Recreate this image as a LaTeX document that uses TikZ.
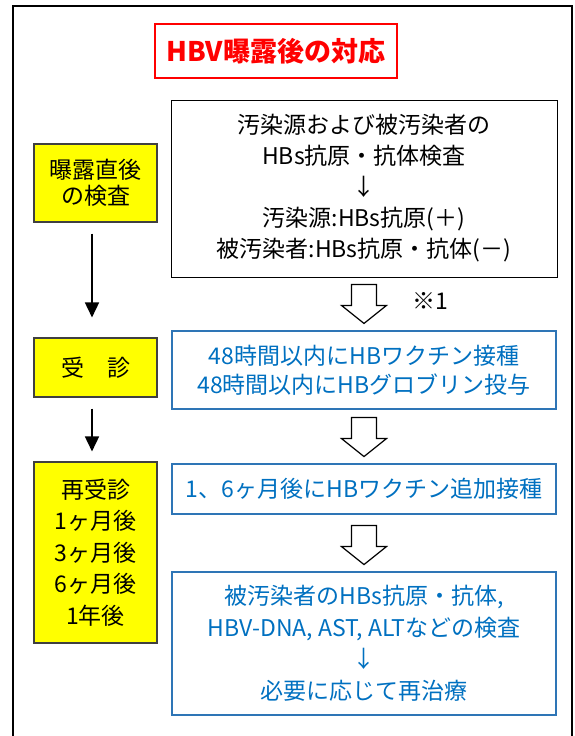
\documentclass[tikz,border=0pt]{standalone}
\usepackage{fontspec}
\setmainfont{Noto Sans CJK JP}
\usetikzlibrary{calc,arrows.meta}
\definecolor{tblue}{RGB}{0,112,192}
\definecolor{bblue}{RGB}{46,117,182}
\definecolor{tred}{RGB}{255,0,0}
\definecolor{ygold}{RGB}{255,255,0}
\begin{document}
\begin{tikzpicture}[x=1pt,y=-1pt,
  box/.style={draw, rectangle, inner sep=0pt, align=center},
  bluebox/.style={box, draw=bblue, line width=1.1pt, text=tblue, minimum width=384pt},
  yelbox/.style={box, draw=black!75, fill=ygold, line width=1.1pt, minimum width=123pt},
  leftarrow/.style={-{Triangle[length=15pt,width=14pt]}, line width=1.6pt},
  harrow/.pic={\draw[fill=white, line width=1.2pt, line join=miter]
      (-12.5,0) -- (12.5,0) -- (12.5,21) -- (22.5,21) -- (0,39) -- (-22.5,21) -- (-12.5,21) -- cycle;}
]
\useasboundingbox (0,0) rectangle (575,736);
% outer frame
\draw[line width=1.8pt] (13,745) -- (13,6) -- (572,6) -- (572,745);
% title
\node[box, draw=tred, line width=1.5pt, text=tred, minimum width=242pt, minimum height=54pt,
      font=\fontsize{27}{30}\selectfont\bfseries] (title) at (276,51) {HBV曝露後の対応};
% right column
\node[box, draw=black, line width=0.9pt, minimum width=386pt, minimum height=177pt,
      font=\fontsize{23}{31}\selectfont] (b1) at (364,188.5)
  {汚染源および被汚染者の\\HBs抗原・抗体検査\\↓\\汚染源:HBs抗原(＋)\\被汚染者:HBs抗原・抗体(－)};
\node[bluebox, minimum height=78pt, font=\fontsize{23}{29}\selectfont] (b2) at (364,370)
  {48時間以内にHBワクチン接種\\48時間以内にHBグロブリン投与};
\node[bluebox, minimum height=50pt, font=\fontsize{23}{29}\selectfont] (b3) at (364,489)
  {1、6ヶ月後にHBワクチン追加接種};
\node[bluebox, minimum height=143pt, font=\fontsize{23}{31.5}\selectfont] (b4) at (364,643.5)
  {被汚染者のHBs抗原・抗体,\\HBV-DNA, AST, ALTなどの検査\\↓\\必要に応じて再治療};
\node[font=\fontsize{23}{25}\selectfont, inner sep=0pt] (n1) at (430,301) {※1};
% hollow arrows
\pic at ($(b1.south)+(0,7)$) {harrow};
\pic at ($(b2.south)+(0,8)$) {harrow};
\pic at ($(b3.south)+(0,11)$) {harrow};
% left column
\node[yelbox, minimum height=78pt, font=\fontsize{23}{26}\selectfont] (ya) at (95.5,183) {曝露直後\\の検査};
\node[yelbox, minimum height=59pt, font=\fontsize{23}{26}\selectfont] (yb) at (95.5,367.5) {受　診};
\node[yelbox, minimum height=181pt, font=\fontsize{23}{31.5}\selectfont] (yc) at (95.5,552.5)
  {再受診\\1ヶ月後\\3ヶ月後\\6ヶ月後\\1年後};
\draw[leftarrow] ($(ya.south)+(-3.5,11)$) -- ($(yb.north)+(-3.5,-20)$);
\draw[leftarrow] ($(yb.south)+(-3.5,11)$) -- ($(yc.north)+(-3.5,-10)$);
\end{tikzpicture}
\end{document}
